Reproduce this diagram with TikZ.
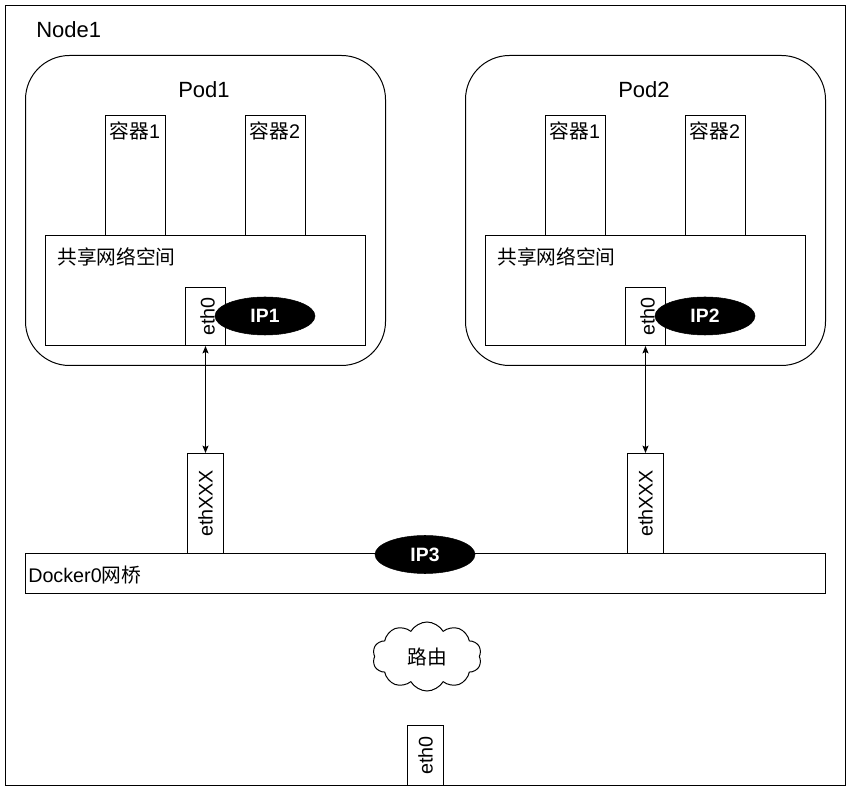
\documentclass[tikz,border=0pt]{standalone}
\usepackage{fontspec}
\setmainfont{Liberation Sans}
\newfontfamily\cjk{Noto Sans CJK SC}
\usetikzlibrary{shapes.geometric,shapes.symbols,arrows.meta}
\begin{document}
\begin{tikzpicture}[x=0.75pt,y=-0.75pt,
  box/.style={draw, line width=0.75pt, rectangle, inner sep=0pt, anchor=north west},
  podbox/.style={box, rounded corners=33pt, minimum width=270pt, minimum height=232.5pt},
  ctbox/.style={box, minimum width=45pt, minimum height=90pt},
  netbox/.style={box, minimum width=240pt, minimum height=82.5pt},
  ethbox/.style={box, minimum width=30pt, minimum height=43.5pt},
  vethbox/.style={box, minimum width=27pt, minimum height=75pt},
  txt/.style={font=\fontsize{14.8}{17}\selectfont, inner sep=0pt},
  bigtxt/.style={font=\fontsize{16.5}{19}\selectfont, inner sep=0pt},
  ipnode/.style={ellipse, fill=black, draw=black, text=white, font=\fontsize{14.5}{17}\selectfont\bfseries, minimum width=75pt, minimum height=28.5pt, inner sep=0pt},
  arr/.style={line width=0.75pt, {Stealth[length=5.5pt,width=4.5pt,inset=1pt]}-{Stealth[length=5.5pt,width=4.5pt,inset=1pt]}}
]
\useasboundingbox (0,0) rectangle (851,791);
\fill[white] (0,0) rectangle (851,791);

% Node1
\node[box, minimum width=630pt, minimum height=585pt] (node1) at (5,5) {};
\node[bigtxt, anchor=west] (node1t) at (36,30) {Node1};

% Pod1
\node[podbox] (pod1) at (25,55) {};
\node[bigtxt] (pod1t) at (204,90) {Pod1};
\node[ctbox] (c11) at (105,115) {};
\node[ctbox] (c12) at (245,115) {};
\node[txt] (c11t) at (135,131) {{\cjk 容器}1};
\node[txt] (c12t) at (275,131) {{\cjk 容器}2};
\node[netbox] (net1) at (45,235) {};
\node[txt, anchor=west] (net1t) at (57,257) {\cjk 共享网络空间};
\node[ethbox] (eth1) at (185,287) {};
\node[txt, rotate=90] (eth1t) at ([xshift=1.5pt]eth1.center) {eth0};
\node[ipnode] (ip1) at (265,316) {IP1};

% Pod2
\node[podbox] (pod2) at (465,55) {};
\node[bigtxt] (pod2t) at (644,90) {Pod2};
\node[ctbox] (c21) at (545,115) {};
\node[ctbox] (c22) at (685,115) {};
\node[txt] (c21t) at (575,131) {{\cjk 容器}1};
\node[txt] (c22t) at (715,131) {{\cjk 容器}2};
\node[netbox] (net2) at (485,235) {};
\node[txt, anchor=west] (net2t) at (497,257) {\cjk 共享网络空间};
\node[ethbox] (eth2) at (625,287) {};
\node[txt, rotate=90] (eth2t) at ([xshift=1.5pt]eth2.center) {eth0};
\node[ipnode] (ip2) at (705,316) {IP2};

% veth
\node[vethbox] (vx1) at (187,453) {};
\node[txt, rotate=90] (vx1t) at (vx1.center) {ethXXX};
\node[vethbox] (vx2) at (627,453) {};
\node[txt, rotate=90] (vx2t) at (vx2.center) {ethXXX};

% Docker0 bridge
\node[box, minimum width=600pt, minimum height=30pt] (br) at (25,553) {};
\node[txt, anchor=west] (brt) at (28,575) {Docker0{\cjk 网桥}};
\node[ipnode] (ip3) at (425,554.5) {IP3};

% route cloud
\node[cloud, draw, line width=0.75pt, cloud puffs=10, cloud puff arc=120, aspect=1.6, minimum width=81.75pt, minimum height=51.75pt, inner sep=0pt, font=\fontsize{14.8}{17}\selectfont] (route) at (427,656.5) {\cjk 路由};

% host eth0
\node[box, minimum width=27pt, minimum height=45pt] (heth) at (407,725) {};
\node[txt, rotate=90] (hetht) at (heth.center) {eth0};

% connectors
\draw[arr] (eth1.south) -- (vx1.north);
\draw[arr] (eth2.south) -- (vx2.north);
\end{tikzpicture}
\end{document}
